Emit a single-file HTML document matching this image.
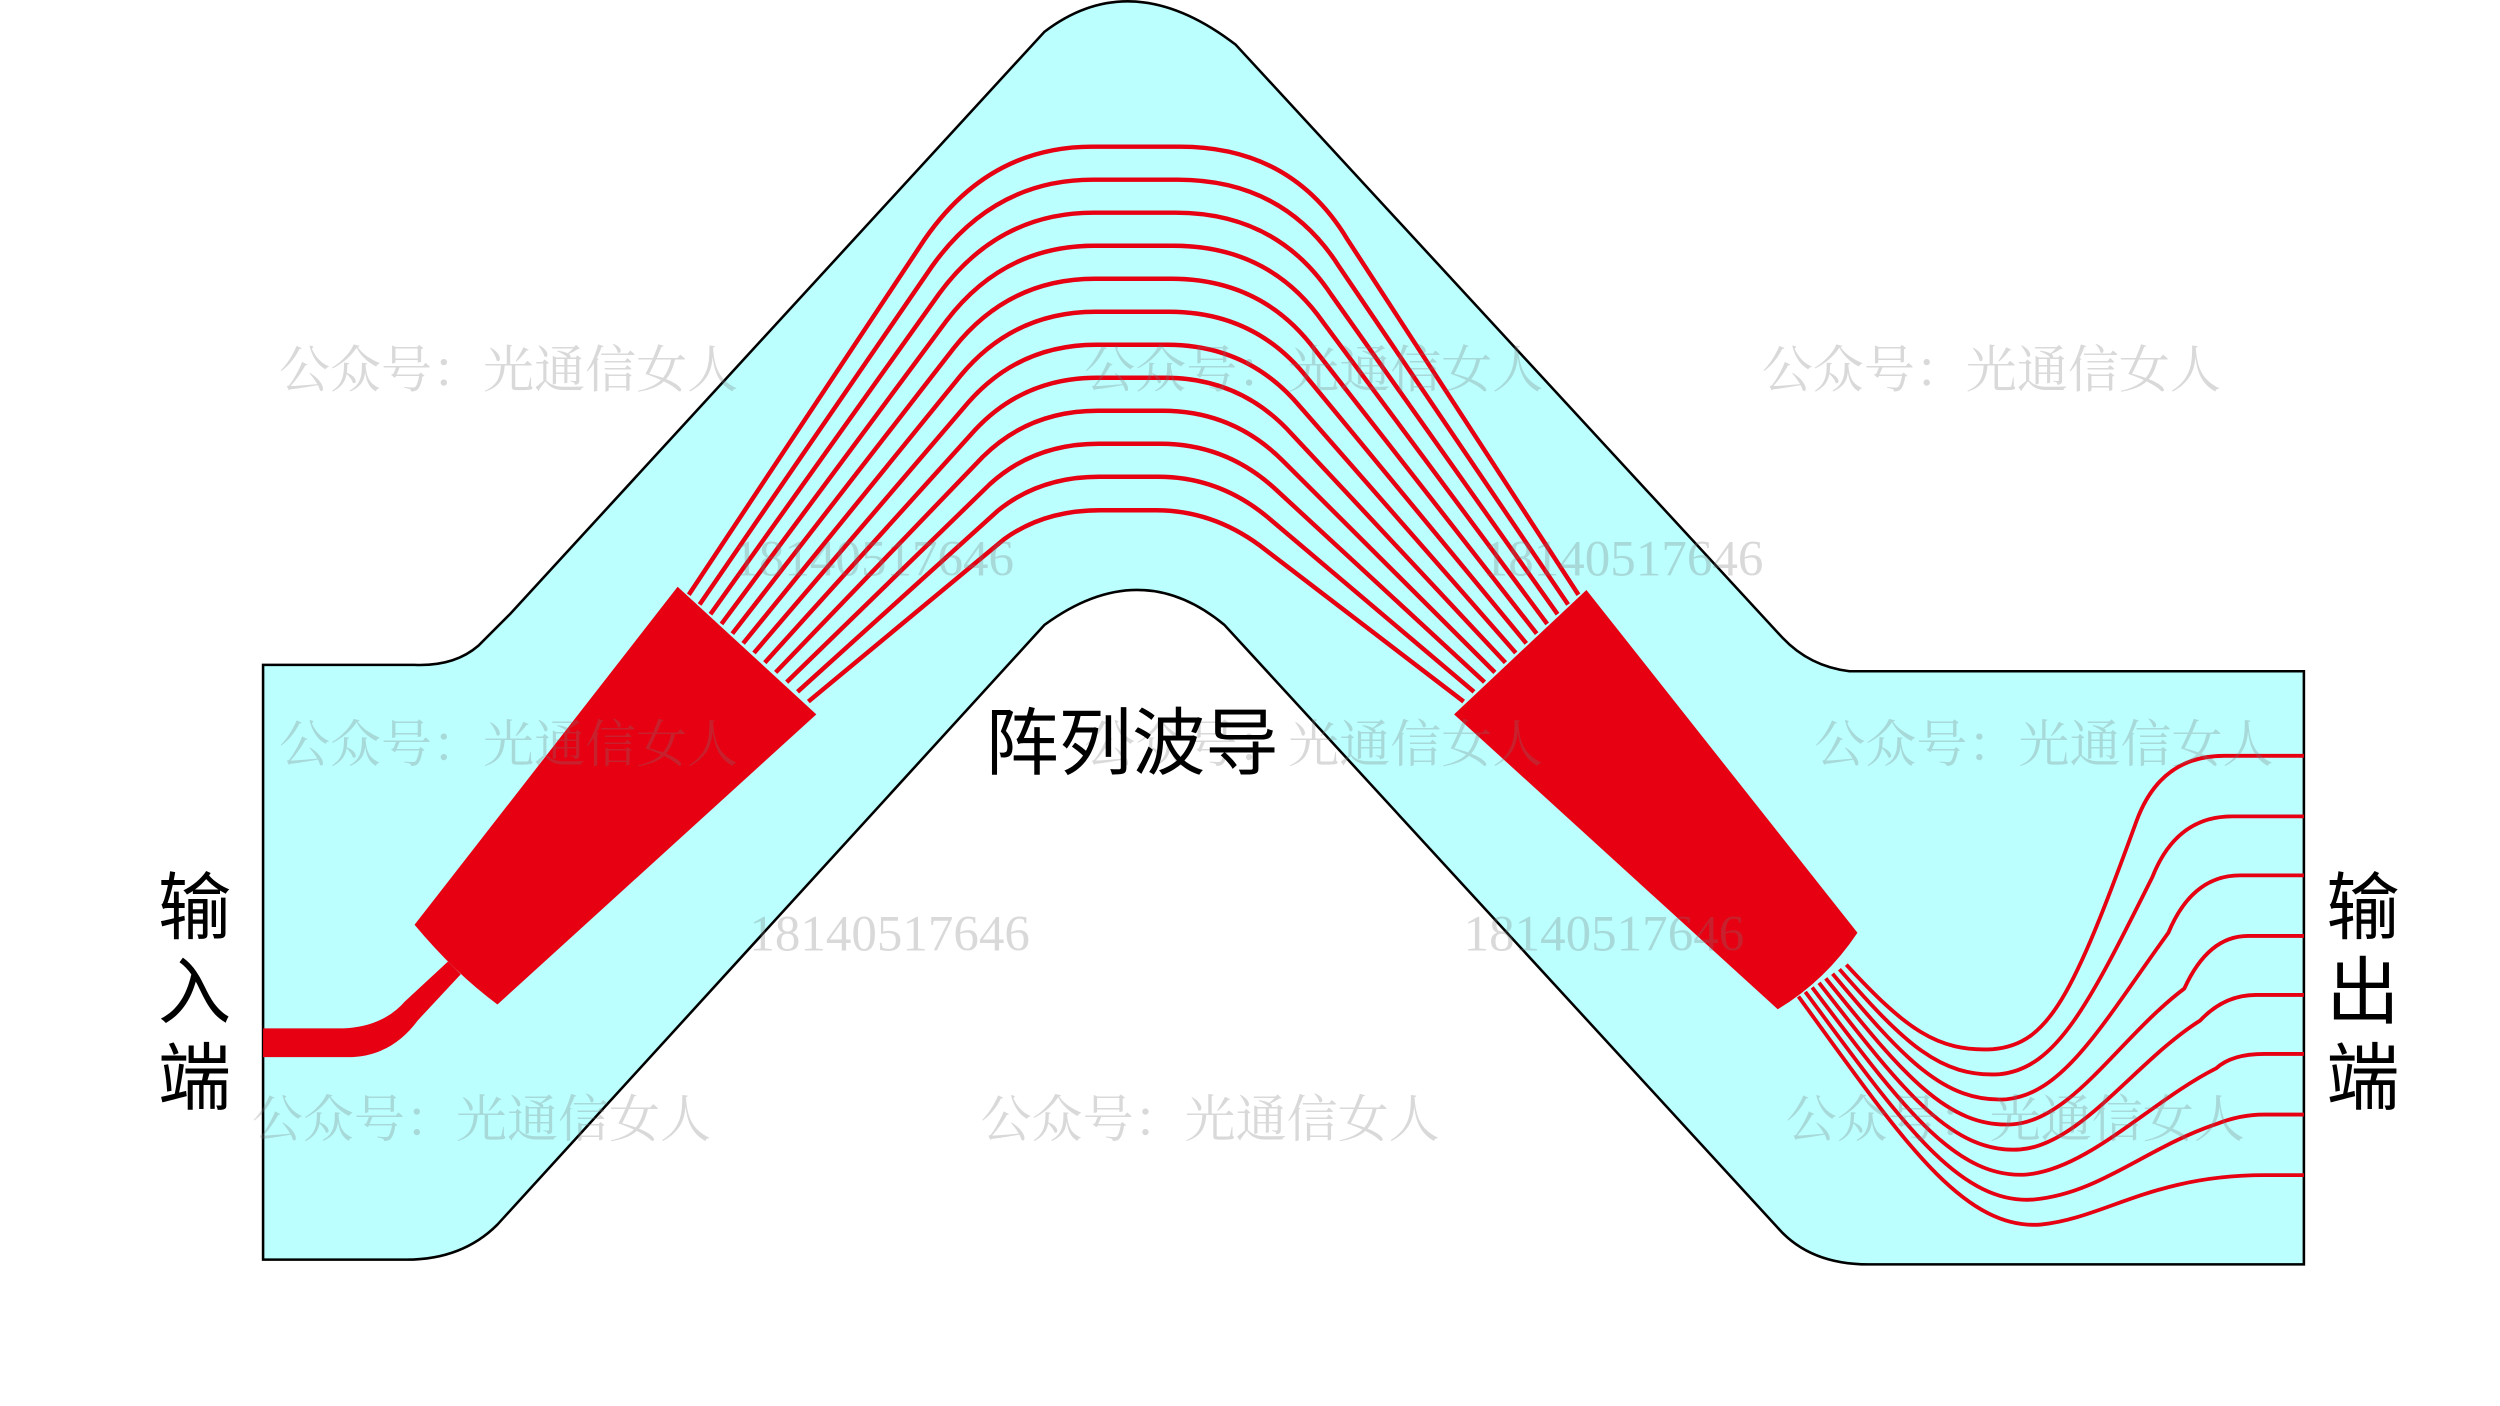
<!DOCTYPE html>
<html><head><meta charset="utf-8"><style>html,body{margin:0;padding:0;background:#fff}svg{display:block}</style></head>
<body>
<svg width="2500" height="1406" viewBox="0 0 1568 881.8" preserveAspectRatio="none" xmlns="http://www.w3.org/2000/svg">
<path d="M165,417 L260,417 Q285,418 300,405 L320,385 L655,20 Q710,-22 775,28 L1118,400 Q1135,418 1160,421 L1445,421 L1445,793 L1172,793 Q1135,793 1115,770 L768,392 Q715,348 655,392 L312,768 Q290,790 255,790 L165,790 Z" fill="#bbffff" stroke="#000" stroke-width="1.6"/>
<g fill="#e60012">
<path d="M425,368 L512,448 L312,630 Q285,610 260,580 Z"/>
<path d="M995,370 L1165,585 Q1145,615 1115,633 L912,448 Z"/>
<path d="M165,645 L215,645 Q240,644 254,628 L281,603 L289,611 L262,640 Q245,663 218,663 L165,663 Z"/>
</g>
<g fill="none" stroke="#e60012" stroke-width="2.8">
<path d="M432,373 L580,150 Q620,92 685,92 L740,92 Q810,92 845,150 L990,373"/>
<path d="M438.8,379.1 L584.5,167.1 Q623.2,112.7 685.5,112.7 L738.6,112.7 Q805.5,112.7 840,167.4 L983.5,379.1"/>
<path d="M445.6,385.2 L589.1,184.1 Q626.4,133.4 685.9,133.4 L737.3,133.4 Q800.9,133.4 835,184.9 L976.9,385.2"/>
<path d="M452.5,391.3 L593.6,201.2 Q629.5,154.1 686.4,154.1 L735.9,154.1 Q796.4,154.1 830,202.3 L970.4,391.3"/>
<path d="M459.3,397.4 L598.2,218.3 Q632.7,174.8 686.8,174.8 L734.5,174.8 Q791.8,174.8 825,219.7 L963.8,397.4"/>
<path d="M466.1,403.5 L602.7,235.3 Q635.9,195.5 687.3,195.5 L733.2,195.5 Q787.3,195.5 820,237.1 L957.3,403.5"/>
<path d="M472.9,409.5 L607.3,252.4 Q639.1,216.2 687.7,216.2 L731.8,216.2 Q782.7,216.2 815,254.6 L950.7,409.5"/>
<path d="M479.7,415.6 L611.8,269.4 Q642.3,236.9 688.2,236.9 L730.5,236.9 Q778.2,236.9 810,272 L944.2,415.6"/>
<path d="M486.5,421.7 L616.4,286.5 Q645.5,257.6 688.6,257.6 L729.1,257.6 Q773.6,257.6 805,289.4 L937.6,421.7"/>
<path d="M493.4,427.8 L620.9,303.6 Q648.6,278.3 689.1,278.3 L727.7,278.3 Q769.1,278.3 800,306.8 L931.1,427.8"/>
<path d="M500.2,433.9 L625.5,320.6 Q651.8,299 689.5,299 L726.4,299 Q764.5,299 795,324.3 L924.5,433.9"/>
<path d="M507,440 L630,338 Q655,320 690,320 L725,320 Q760,320 790,342 L918,440"/>
</g>
<g fill="none" stroke="#e60012" stroke-width="2.4">
<path d="M1158,605 C1195,645 1215,660 1250,658 C1285,655 1300,625 1340,515 Q1355,474 1395,474 L1445,474"/>
<path d="M1153.7,607.9 C1194.3,654.3 1217.1,676 1254.3,673.7 C1290,670 1310,630 1350,550 Q1365,512 1400,512 L1445,512"/>
<path d="M1149.4,610.7 C1193.6,663.6 1219.3,692 1258.6,689.4 C1295,686 1320,640 1360,585 Q1375,549 1405,549 L1445,549"/>
<path d="M1145.1,613.6 C1192.9,672.9 1221.4,708 1262.9,705.1 C1300,702 1330,650 1370,620 Q1385,587 1410,587 L1445,587"/>
<path d="M1140.9,616.4 C1192.1,682.1 1223.6,724 1267.1,720.9 C1305,718 1340,665 1380,640 Q1395,624 1415,624 L1445,624"/>
<path d="M1136.6,619.3 C1191.4,691.4 1225.7,740 1271.4,736.6 C1310,733 1350,690 1390,670 Q1400,661 1420,661 L1445,661"/>
<path d="M1132.3,622.1 C1190.7,700.7 1227.9,756 1275.7,752.3 C1317.1,748.4 1345.7,720 1390,705 Q1405,699 1420,699 L1445,699"/>
<path d="M1128,625 C1190,710 1230,772 1280,768 C1320,764 1350,737 1420,737 L1445,737"/>
</g>
<g font-family="Liberation Serif, 'Noto Serif CJK SC', serif" font-size="32" fill="#777" fill-opacity="0.28">
<text x="175" y="243">公众号：光通信女人</text>
<text x="680" y="243">公众号：光通信女人</text>
<text x="1105" y="243">公众号：光通信女人</text>
<text x="175" y="478">公众号：光通信女人</text>
<text x="680" y="478">公众号：光通信女人</text>
<text x="1138" y="478">公众号：光通信女人</text>
<text x="158" y="713">公众号：光通信女人</text>
<text x="615" y="713">公众号：光通信女人</text>
<text x="1120" y="713">公众号：光通信女人</text>
<text x="460" y="361">18140517646</text>
<text x="930" y="361">18140517646</text>
<text x="470" y="596">18140517646</text>
<text x="918" y="596">18140517646</text>
</g>
<g font-family="Liberation Sans, 'Noto Sans CJK SC', sans-serif" font-size="46" fill="#000">
<text x="618" y="482">阵列波导</text>
<text x="122" y="585" text-anchor="middle">输</text>
<text x="122" y="638" text-anchor="middle">入</text>
<text x="122" y="692" text-anchor="middle">端</text>
<text x="1482" y="585" text-anchor="middle">输</text>
<text x="1482" y="638" text-anchor="middle">出</text>
<text x="1482" y="692" text-anchor="middle">端</text>
</g>
</svg>
</body></html>
